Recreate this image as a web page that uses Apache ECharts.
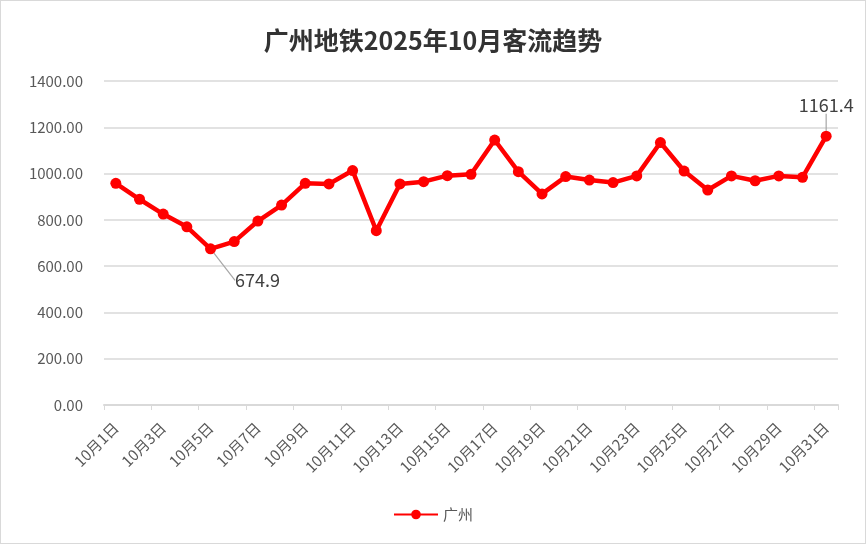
<!DOCTYPE html>
<html><head><meta charset="utf-8">
<script src="https://cdn.jsdelivr.net/npm/echarts@6/dist/echarts.min.js"></script>
<style>html,body{margin:0;padding:0;background:#fff}#c{width:864px;height:542px;border:1px solid #d9d9d9}</style>
</head><body><div id="c"></div>
<script>
const titleText = '广州地铁2025年10月客流趋势';
const seriesName = '广州';
const categories = [];
for (let d = 1; d <= 31; d++) categories.push('10月' + d + '日');
const values = [958, 889, 825, 770, 674.9, 706, 795, 864, 958, 955, 1013, 753, 955, 965, 991, 997, 1145, 1008, 912, 987, 972, 961, 990, 1134, 1011, 929, 990, 969, 990, 984, 1161.4];
const yTicks = [0, 200, 400, 600, 800, 1000, 1200, 1400];

const minIdx = values.indexOf(Math.min(...values));
const maxIdx = values.indexOf(Math.max(...values));
const data = values.map((v, i) => {
  if (i === minIdx || i === maxIdx) {
    return { value: v, label: { show: true, formatter: String(v) } };
  }
  return v;
});

const chart = echarts.init(document.getElementById('c'));
chart.setOption({
  animation: false,
  title: {
    text: titleText, left: 'center', top: 22,
    textStyle: { fontFamily: 'Noto Sans CJK SC', fontSize: 25, fontWeight: 'bold', color: '#333' }
  },
  grid: { left: 103, right: 27, top: 80, bottom: 138, containLabel: false },
  legend: {
    bottom: 16, left: 'center', itemWidth: 44, itemHeight: 12,
    textStyle: { fontFamily: 'Noto Sans CJK SC', fontSize: 15, color: '#595959' },
    data: [seriesName]
  },
  xAxis: {
    type: 'category', data: categories, boundaryGap: true,
    axisLine: { lineStyle: { color: '#d9d9d9', width: 2 } },
    axisTick: { show: true, interval: 1, length: 5, lineStyle: { color: '#d9d9d9' } },
    axisLabel: { interval: 1, rotate: 45, fontFamily: 'Noto Sans CJK SC', fontSize: 15, color: '#595959', margin: 20 }
  },
  yAxis: {
    type: 'value', min: 0, max: 1400, interval: 200,
    axisLine: { show: false }, axisTick: { show: false },
    splitLine: { lineStyle: { color: '#d9d9d9', width: 1.5 } },
    axisLabel: {
      fontFamily: 'Noto Sans CJK SC', fontSize: 15, color: '#595959', margin: 21,
      formatter: v => yTicks.includes(v) ? v.toFixed(2) : ''
    }
  },
  series: [{
    name: seriesName, type: 'line', data: data,
    symbol: 'circle', symbolSize: 11,
    lineStyle: { color: '#ff0000', width: 4.5 },
    itemStyle: { color: '#ff0000' },
    label: { show: false, fontFamily: 'Noto Sans CJK SC', fontSize: 18, color: '#404040' },
    labelLine: { show: true, lineStyle: { color: '#a6a6a6', width: 1.2 } },
    labelLayout: function (p) {
      if (p.dataIndex === minIdx) {
        return { x: p.rect.x + 30, y: p.rect.y + 28, align: 'left' };
      }
      if (p.dataIndex === maxIdx) {
        return { dy: -12 };
      }
      return {};
    }
  }]
});
</script></body></html>
